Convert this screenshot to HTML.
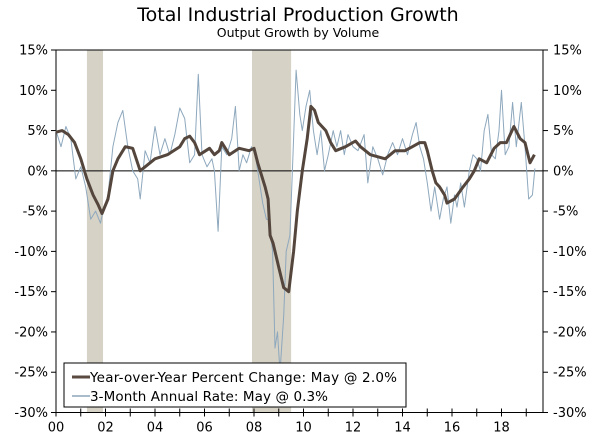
<!DOCTYPE html>
<html><head><meta charset="utf-8"><style>
body{margin:0;background:#fff;}
svg text{font-family:"DejaVu Sans","Liberation Sans",sans-serif;fill:#000;}
</style></head><body>
<svg id="chart" width="600" height="439" xmlns="http://www.w3.org/2000/svg">
<text x="298" y="21" text-anchor="middle" font-size="19">Total Industrial Production Growth</text>
<text x="298" y="37" text-anchor="middle" font-size="12.5">Output Growth by Volume</text>
<g id="rec"></g>
<g id="grid"></g>
<g id="series"></g>
<g>
<rect x="64" y="363" width="342" height="44" fill="#fff" stroke="#000" stroke-width="1"/>
<line x1="72" y1="377" x2="90" y2="377" stroke="#5a4a40" stroke-width="3"/>
<text x="90" y="382" font-size="13.5" textLength="307">Year-over-Year Percent Change: May @ 2.0%</text>
<line x1="72" y1="396" x2="90" y2="396" stroke="#a9bccb" stroke-width="2"/>
<text x="90" y="401" font-size="13.5" textLength="238">3-Month Annual Rate: May @ 0.3%</text>
</g>
</svg>
<script>
const recStart=[2001.25,2007.92];
const recEnd=[2001.9,2009.5];
const yTicks=[15,10,5,0,-5,-10,-15,-20,-25,-30];
const xLabels=["00","02","04","06","08","10","12","14","16","18"];
const yoyDates=[2000.0,2000.25,2000.5,2000.75,2001.0,2001.25,2001.5,2001.7,2001.86,2002.1,2002.3,2002.5,2002.8,2003.1,2003.4,2004.0,2004.5,2005.0,2005.2,2005.4,2005.6,2005.8,2006.2,2006.4,2006.6,2006.7,2007.0,2007.4,2007.8,2008.0,2008.15,2008.45,2008.57,2008.65,2008.77,2009.0,2009.2,2009.4,2009.6,2009.75,2009.95,2010.15,2010.3,2010.45,2010.6,2010.9,2011.1,2011.3,2011.7,2012.1,2012.3,2012.7,2013.3,2013.7,2014.1,2014.4,2014.7,2014.9,2015.0,2015.2,2015.35,2015.5,2015.7,2015.8,2016.1,2016.45,2016.7,2016.9,2017.1,2017.4,2017.7,2017.95,2018.2,2018.5,2018.75,2018.95,2019.15,2019.33];
const yoyValues=[4.8,5.0,4.5,3.5,1.5,-1.0,-3.0,-4.2,-5.3,-3.5,0,1.5,3.0,2.8,0,1.5,2.0,3.0,4.0,4.3,3.5,2.0,2.8,2.0,2.5,3.5,2.0,2.8,2.5,2.8,1.0,-2.0,-3.5,-8.0,-9.0,-12.0,-14.5,-15.0,-10.0,-5.0,0,4.0,8.0,7.5,6.0,5.0,3.5,2.5,3.0,3.7,3.0,2.0,1.5,2.5,2.5,3.0,3.5,3.5,2.5,0,-1.5,-2.0,-3.0,-4.0,-3.5,-2.0,-1.0,0,1.5,1.0,2.8,3.5,3.5,5.5,4.0,3.5,1.0,2.0];
const m3Dates=[2000.0,2000.2,2000.4,2000.6,2000.8,2001.0,2001.2,2001.4,2001.6,2001.8,2001.9,2002.1,2002.3,2002.5,2002.7,2002.9,2003.1,2003.3,2003.4,2003.6,2003.8,2004.0,2004.2,2004.4,2004.6,2004.8,2005.0,2005.2,2005.4,2005.6,2005.75,2005.9,2006.1,2006.3,2006.4,2006.55,2006.7,2006.9,2007.1,2007.25,2007.4,2007.55,2007.7,2007.9,2008.05,2008.2,2008.35,2008.5,2008.6,2008.75,2008.85,2008.95,2009.05,2009.2,2009.3,2009.45,2009.55,2009.7,2009.85,2009.95,2010.1,2010.25,2010.4,2010.55,2010.7,2010.85,2011.0,2011.2,2011.35,2011.5,2011.65,2011.8,2012.0,2012.2,2012.45,2012.6,2012.8,2013.0,2013.2,2013.4,2013.6,2013.8,2014.0,2014.2,2014.4,2014.55,2014.7,2014.85,2015.0,2015.15,2015.3,2015.5,2015.65,2015.8,2015.95,2016.1,2016.2,2016.35,2016.5,2016.7,2016.85,2017.0,2017.15,2017.3,2017.45,2017.6,2017.75,2017.9,2018.0,2018.15,2018.3,2018.45,2018.6,2018.8,2018.95,2019.1,2019.25,2019.35];
const m3Values=[5,3,5.5,4,-1,0.5,-2,-6,-5,-6.5,-5,-3,3,6,7.5,3,0,-1,-3.5,2.5,1,5.5,2,4,2,4.5,7.8,6.5,1,2,12,2,0.5,1.5,0,-7.5,3,2,4,8,0,2,1,3,2,-1,-4,-6,-6,-10,-22,-20,-25,-18,-10,-8,0,12.5,7,5,8,10,5,2,5,0,2,5,3,5,2,4.5,3,2.5,4.5,-1.5,3,1.5,-0.5,2,3.5,2,4,2,4.5,6,3,1.5,-1.5,-5,-2,-6,-3.5,-2,-6.5,-3,-4.5,-1.5,-4.5,0,2,1.5,0,5,7,2,1.5,5,10,2,3,8.5,3,8.5,3,-3.5,-3,0.3];

const NS="http://www.w3.org/2000/svg";
const L=56,R=543,T=50,B=412.5;
const xS=t=>L+(t-2000)*24.75;
const yS=v=>T+(15-v)*(B-T)/45;
function mk(tag,attrs,parent){const e=document.createElementNS(NS,tag);for(const k in attrs)e.setAttribute(k,attrs[k]);parent.appendChild(e);return e;}
const rec=document.getElementById('rec'),grid=document.getElementById('grid'),ser=document.getElementById('series');
recStart.forEach((s,i)=>{
 const r=mk('rect',{x:xS(s),y:T,width:xS(recEnd[i])-xS(s),height:B-T,fill:'#d6d2c6'},rec);
 
 
});
let a=mk('path',{d:`M${L},${T}H${R}M${L},${T}V${B}H${R}V${T}M${L},${yS(0)}H${R}`,stroke:'#000','stroke-width':1,fill:'none'},grid);


yTicks.forEach(v=>{
 const y=yS(v);
 mk('line',{x1:L-5,x2:L,y1:y,y2:y,stroke:'#000'},grid);
 mk('line',{x1:R,x2:R+5,y1:y,y2:y,stroke:'#000'},grid);
 const t1=mk('text',{x:L-8,y:y+4.5,'text-anchor':'end','font-size':13},grid);t1.textContent=v+'%';
 
 
 const t2=mk('text',{x:R+10,y:y+4.5,'font-size':13},grid);t2.textContent=v+'%';
 
 
});
for(let yr=2000;yr<=2019;yr++){const x=xS(yr);mk('line',{x1:x,x2:x,y1:B-4,y2:B+4,stroke:'#000'},grid);}
xLabels.forEach((lab,i)=>{
 const t=mk('text',{x:xS(2000+2*i),y:B+19,'text-anchor':'middle','font-size':13},grid);t.textContent=lab;
 
 
});
function line(d,v,st,w,name){
 const p=mk('path',{d:d.map((t,i)=>(i?'L':'M')+xS(t).toFixed(1)+','+yS(v[i]).toFixed(1)).join(''),stroke:st,'stroke-width':w,fill:'none','stroke-linejoin':'round'},ser);
 
 
}
line(m3Dates,m3Values,'#8ea8bd',1,'three-month-rate-line');
line(yoyDates,yoyValues,'#54463c',3,'yoy-change-line');
</script>
</body></html>
